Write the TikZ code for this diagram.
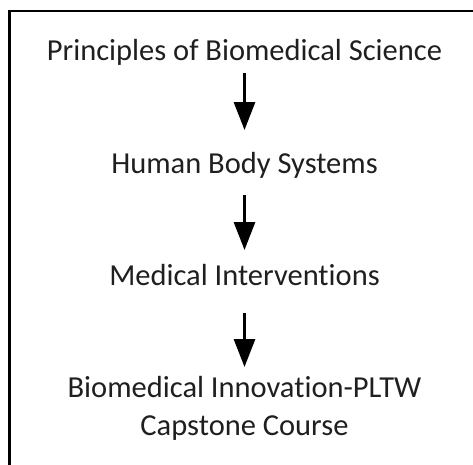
\documentclass[tikz,border=0pt]{standalone}
\usepackage{fontspec}
\setmainfont{Carlito}[Ligatures=NoCommon]
\usetikzlibrary{arrows.meta}
\begin{document}
\begin{tikzpicture}[x=1pt,y=-1pt,
  lbl/.style={inner sep=0pt, anchor=base, font=\fontsize{30.5}{38}\selectfont, align=center, text=black!88},
  flow/.style={line width=3pt, -{Triangle[width=21pt,length=28pt]}}]
\useasboundingbox (0,0) rectangle (473,464);
\draw[line width=2.5pt] (480,11) -- (9.3,11) -- (9.3,470);
\node[lbl] (a) at (244.5,60) {Principles of Biomedical Science};
\node[lbl] (b) at (244.5,173) {Human Body Systems};
\node[lbl] (c) at (244.5,285) {Medical Interventions};
\node[lbl, anchor=north] (d) at (244.5,376) {Biomedical Innovation-PLTW\\Capstone Course};
\draw[flow] ([yshift=-13pt]a.base) -- ([yshift=43pt]b.base);
\draw[flow] ([yshift=-22pt]b.base) -- ([yshift=35pt]c.base);
\draw[flow] ([yshift=-28pt]c.base) -- ([yshift=9pt]d.north);
\end{tikzpicture}
\end{document}
